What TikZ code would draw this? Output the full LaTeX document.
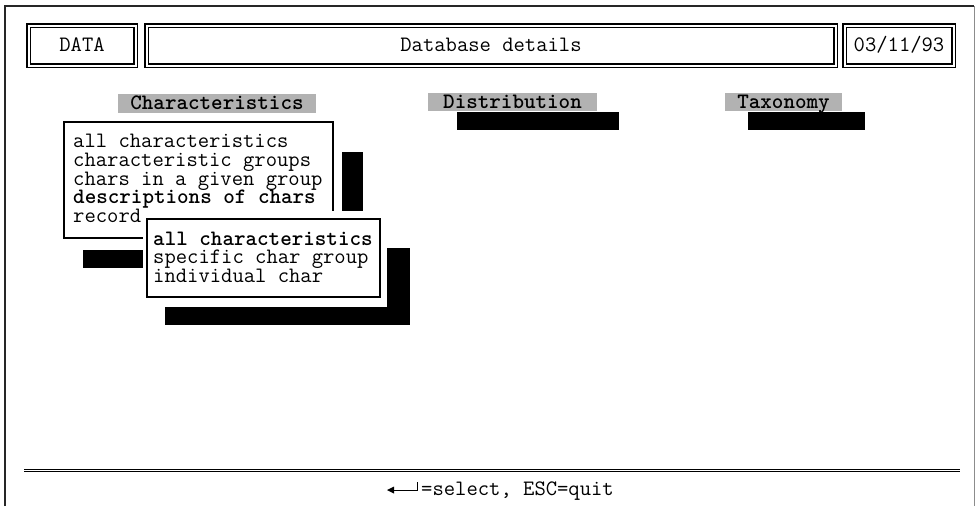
\documentclass[tikz,border=0pt]{standalone}
\usepackage{fontspec}
\begin{document}
\begin{tikzpicture}[x=1pt,y=-1pt,
  mono/.style={font=\ttfamily\fontsize{22}{22}\selectfont, inner sep=0pt},
  monob/.style={font=\ttfamily\fontsize{22}{22}\selectfont\bfseries, inner sep=0pt},
  menutext/.style={font=\ttfamily\fontsize{22}{18.9}\selectfont, inner sep=0pt, align=left, anchor=north west},
  dbox/.style={draw=black, double=white, double distance=2pt, line width=1.1pt},
  menubox/.style={draw=black, line width=1.2pt, fill=white},
  headbg/.style={fill=black!30},
  shadow/.style={fill=black}]
\useasboundingbox (0,0) rectangle (976,506);
% outer frame
\draw[line width=1.3pt, black!85] (5,506) -- (5,6) -- (974,6);
\draw[line width=0.8pt, black!45] (974,6) -- (974,506);
% title row
\draw[dbox] (28.5,25.5) rectangle (135.5,65.5);
\draw[dbox] (146.5,25.5) rectangle (835.5,65.5);
\draw[dbox] (844.5,25.5) rectangle (953.5,65.5);
\node[mono, anchor=base] (data) at (82,51) {DATA};
\node[mono, anchor=base] (title) at (491,51) {Database details};
\node[mono, anchor=base] (date) at (899,51) {03/11/93};
% headings
\fill[headbg] (118,94) rectangle (316,113);
\node[monob, anchor=base] (hchar) at (217,109) {Characteristics};
\fill[headbg] (428,93) rectangle (597,111);
\node[monob, anchor=base] (hdist) at (512.5,108) {Distribution};
\fill[headbg] (725,93) rectangle (842,111);
\node[monob, anchor=base] (htax) at (783.5,108) {Taxonomy};
% bars under headings
\fill[shadow] (457,112) rectangle (619,130);
\fill[shadow] (748,112) rectangle (865,130);
% menu 1 shadow
\fill[shadow] (342,152) rectangle (363,268);
\fill[shadow] (83,250) rectangle (363,268);
% menu 1
\draw[menubox] (64,122) rectangle (333,238);
\node[menutext] (menu1) at (73,133.6) {all characteristics\\characteristic groups\\chars in a given group\\\textbf{descriptions of chars}\\record};
% menu 2 clear margin
\fill[white] (143,211) rectangle (384,302);
% menu 2 shadow
\fill[shadow] (387,248) rectangle (410,325);
\fill[shadow] (165,307) rectangle (410,325);
% menu 2
\draw[menubox] (147,219) rectangle (380,297);
\node[menutext] (menu2) at (153,231.4) {\textbf{all characteristics}\\specific char group\\individual char};
% bottom separator
\draw[line width=0.9pt, double=white, double distance=1.6pt] (24,470.5) -- (960,470.5);
% status line
\fill (387,490) -- (394,486.5) -- (394,493.5) -- cycle;
\draw[line width=1pt] (393,490) -- (417,490) -- (417,482);
\node[mono, anchor=base west] (status) at (421,495) {=select, ESC=quit};
\end{tikzpicture}
\end{document}
